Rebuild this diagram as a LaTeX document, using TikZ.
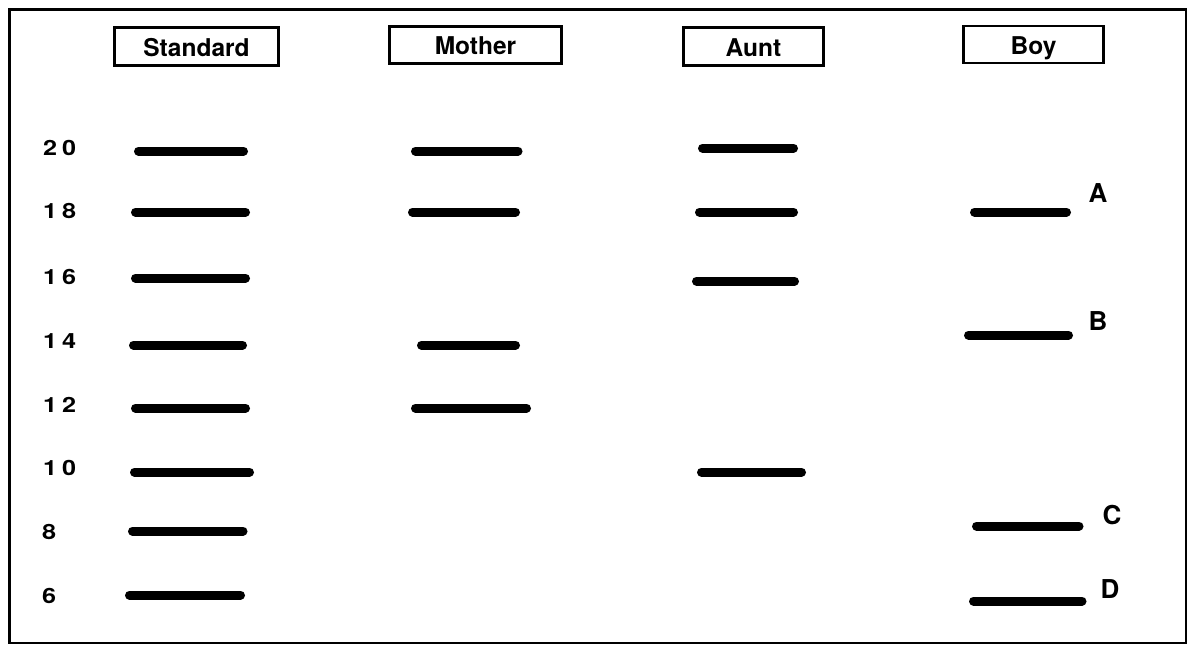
\documentclass[tikz,border=0pt]{standalone}
\usepackage{fontspec}
\setmainfont{TeX Gyre Heros}
\newfontfamily\numfont[FakeStretch=1.2]{TeX Gyre Heros}
\begin{document}
\begin{tikzpicture}[x=1pt,y=-1pt,
  lanebox/.style={draw,line width=2.6pt,inner sep=0pt,text height=24pt,text depth=5pt,
    font=\fontsize{24.5}{24.5}\selectfont\bfseries},
  sizelbl/.style={anchor=west,inner sep=0pt,font=\numfont\fontsize{21}{21}\selectfont\bfseries},
  bandlbl/.style={inner sep=0pt,font=\fontsize{26}{26}\selectfont\bfseries},
  band/.style={line width=9pt,line cap=round}]
\useasboundingbox (0,0) rectangle (1188,646);
\draw[line width=2.6pt] (9.5,9.5) rectangle (1186,643);
% lane headers
\node[lanebox,minimum width=164pt,minimum height=38pt] (std) at (196.5,46.5) {Standard};
\node[lanebox,minimum width=172pt,minimum height=37pt] (mot) at (475.5,45) {Mother};
\node[lanebox,minimum width=140pt,minimum height=38pt] (aun) at (753.5,46.5) {Aunt};
\node[lanebox,minimum width=140pt,minimum height=37pt] (boy) at (1033.5,44.5) {Boy};
% size labels
\node[sizelbl] (s20) at (43,148) {2\kern5pt0};
\node[sizelbl] (s18) at (43,211) {1\kern5pt8};
\node[sizelbl] (s16) at (43,277) {1\kern5pt6};
\node[sizelbl] (s14) at (43,341) {1\kern5pt4};
\node[sizelbl] (s12) at (43,405) {1\kern5pt2};
\node[sizelbl] (s10) at (43,468) {1\kern5pt0};
\node[sizelbl] (s8) at (42,532) {8};
\node[sizelbl] (s6) at (42,596) {6};
% standard bands
\draw[band] (138.5,151) -- (243.5,151);
\draw[band] (135.5,212) -- (245.5,212);
\draw[band] (135.5,278) -- (245.5,278);
\draw[band] (133.5,345) -- (242.5,345);
\draw[band] (135.5,408) -- (245.5,408);
\draw[band] (134.5,472) -- (249.5,472);
\draw[band] (132.5,531) -- (243,531);
\draw[band] (129.5,595) -- (240.5,595);
% mother bands
\draw[band] (415.5,151) -- (518,151);
\draw[band] (412.5,212) -- (515.5,212);
\draw[band] (421.5,345) -- (515.5,345);
\draw[band] (415.5,408) -- (526.5,408);
% aunt bands
\draw[band] (702.5,148) -- (793.5,148);
\draw[band] (699.5,212) -- (793.5,212);
\draw[band] (696.5,281) -- (794.5,281);
\draw[band] (701.5,472) -- (801.5,472);
% boy bands
\draw[band] (974.5,212) -- (1066.5,212);
\draw[band] (968.5,335) -- (1068.5,335);
\draw[band] (976.5,526) -- (1079,526);
\draw[band] (973.5,601) -- (1082,601);
% band labels
\node[bandlbl] (la) at (1098,193) {A};
\node[bandlbl] (lb) at (1098,321) {B};
\node[bandlbl] (lc) at (1112,515) {C};
\node[bandlbl] (ld) at (1110,589) {D};
\end{tikzpicture}
\end{document}
